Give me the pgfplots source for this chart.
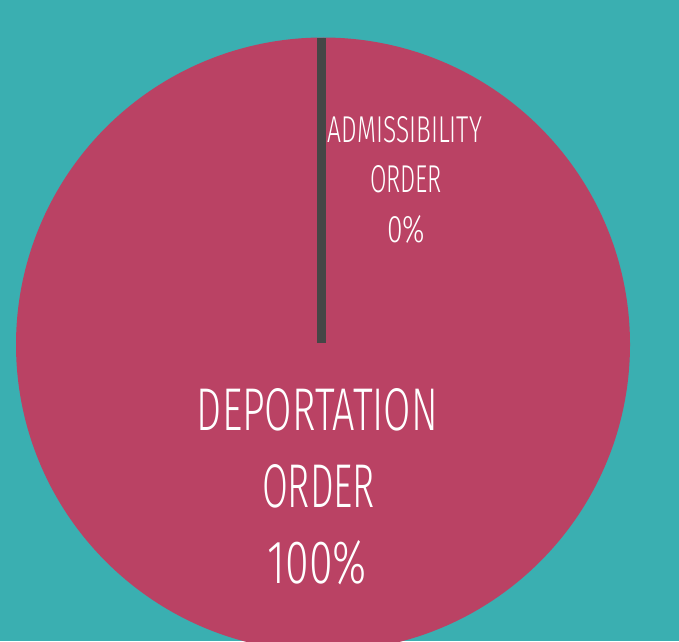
\documentclass[border=0pt]{standalone}
\usepackage{pgfplots}
\usepackage{pgfplotstable}
\pgfplotsset{compat=1.18}
\usepackage{fontspec}
\newfontfamily\lab{Fira Sans Light}
\definecolor{bgteal}{HTML}{3AAFB1}
\definecolor{piered}{HTML}{BA4264}
\definecolor{bargray}{HTML}{464646}
\pgfplotstableread{
label value
Deportation 100
Admissibility 0
}\piedata
\begin{document}
\begin{tikzpicture}
\pgfplotstablegetelem{0}{value}\of\piedata
\edef\vdep{\pgfplotsretval}
\pgfplotstablegetelem{1}{value}\of\piedata
\edef\vadm{\pgfplotsretval}
\begin{axis}[
  scale only axis, width=679pt, height=641pt,
  xmin=0, xmax=679, ymin=0, ymax=641,
  hide axis,
  axis background/.style={fill=bgteal},
  clip=true,
]
% pie: Deportation slice (clockwise from top)
\fill[piered] (axis cs:323,296.5) -- (axis cs:323,603.5)
   arc[start angle=90, end angle={90-3.6*\vdep}, radius=307pt] -- cycle;
% Admissibility slice (0 %): zero-width wedge drawn as its border
\draw[bargray, line width=9pt] (axis cs:321.5,298) -- (axis cs:321.5,603)
   arc[start angle=90, end angle={90-3.6*\vadm}, radius=307pt];
% labels
\node[anchor=base, inner sep=0pt, text=white] at (axis cs:317.5,211) {\resizebox{241pt}{42pt}{\lab DEPORTATION}};
\node[anchor=base, inner sep=0pt, text=white] at (axis cs:318.5,134) {\resizebox{113pt}{43pt}{\lab ORDER}};
\node[anchor=base, inner sep=0pt, text=white] at (axis cs:317.5,58) {\resizebox{99pt}{43pt}{\lab 100\%}};
\node[anchor=base, inner sep=0pt, text=white] at (axis cs:405,498) {\resizebox{154pt}{26pt}{\lab ADMISSIBILITY}};
\node[anchor=base, inner sep=0pt, text=white] at (axis cs:406,448) {\resizebox{72pt}{27pt}{\lab ORDER}};
\node[anchor=base, inner sep=0pt, text=white] at (axis cs:406,399) {\resizebox{38pt}{27pt}{\lab 0\%}};
\end{axis}
\end{tikzpicture}
\end{document}
